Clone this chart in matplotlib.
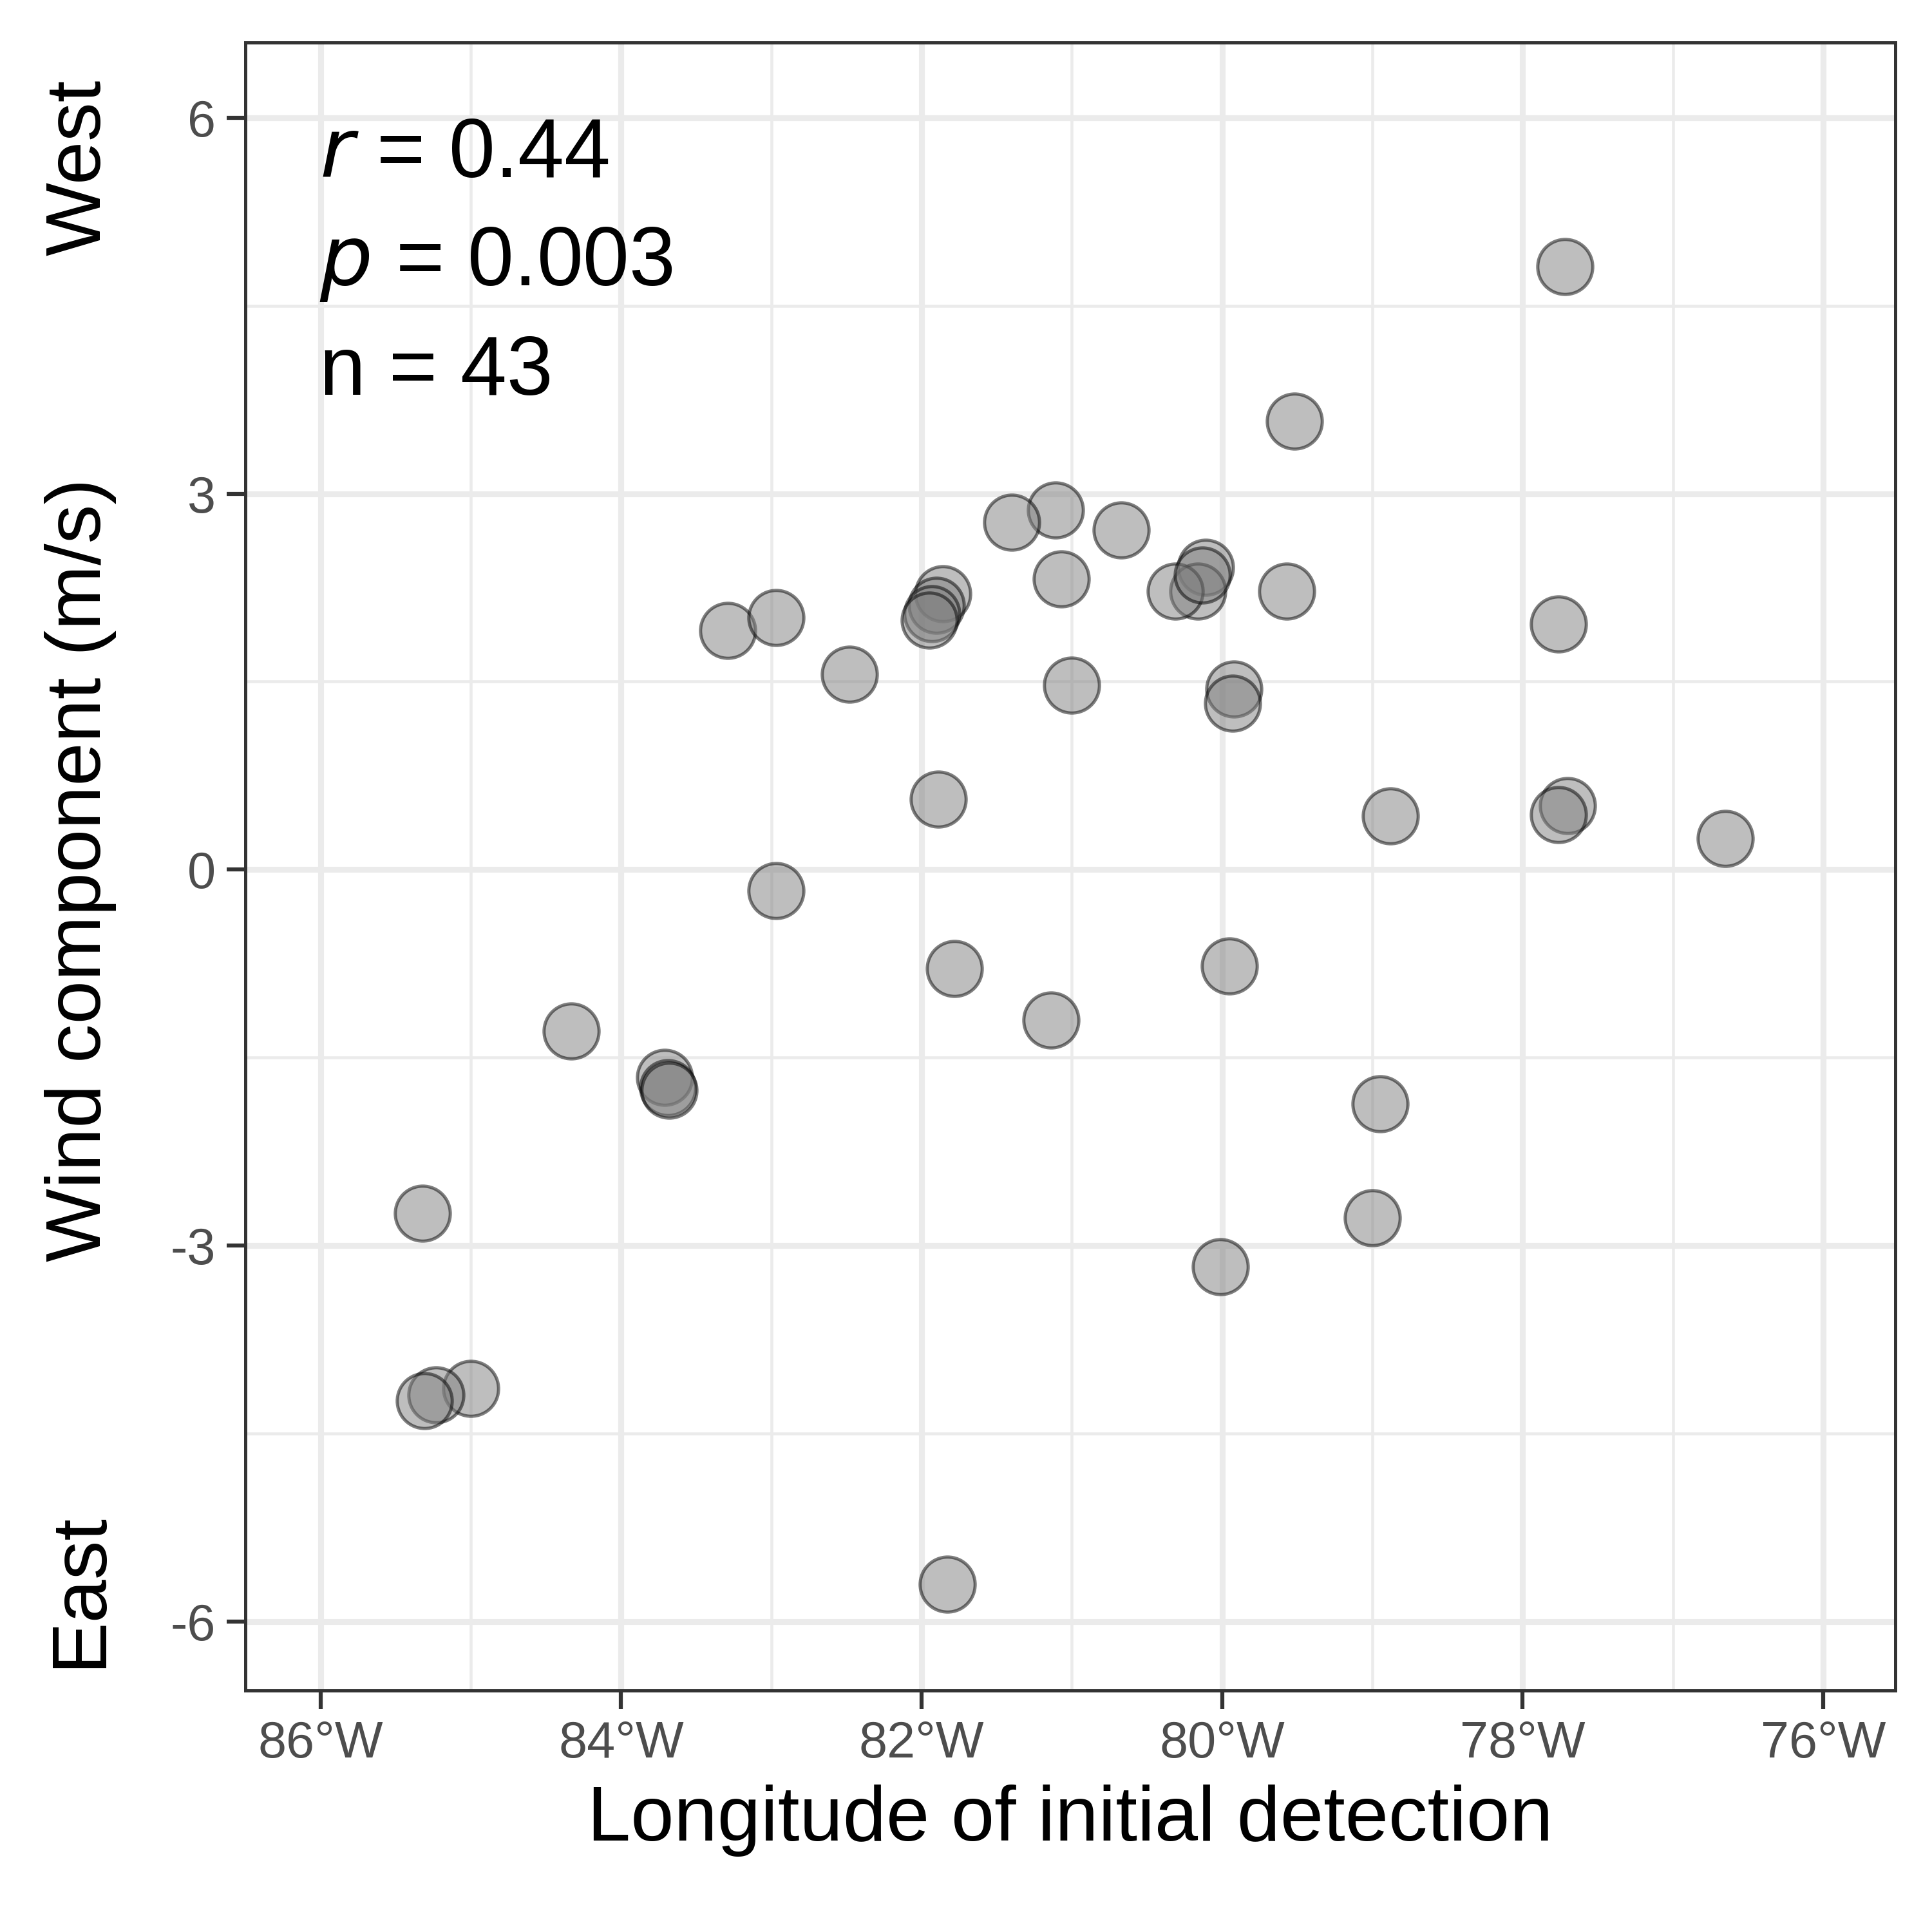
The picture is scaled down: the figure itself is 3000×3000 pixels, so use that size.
import matplotlib
matplotlib.use("Agg")
import matplotlib.pyplot as plt
from matplotlib.ticker import FixedLocator, MultipleLocator
import matplotlib.transforms as mtrans

plt.rcParams["font.family"] = ["Liberation Sans", "DejaVu Sans"]

# longitude (negative = °W) and wind component (m/s)
lon = [-77.72, -79.52, -81.11, -81.40, -80.67, -81.07, -80.11, -80.16, -80.31,
       -79.57, -81.86, -81.90, -81.93, -81.95, -83.29, -82.97, -82.48, -81.00,
       -79.92, -79.93, -77.76, -81.89, -78.88, -77.70, -77.76, -76.65, -82.97,
       -81.78, -79.95, -81.14, -84.33, -83.71, -83.69, -83.68, -78.95, -85.32,
       -79.00, -80.01, -85.00, -85.23, -85.31, -81.83, -80.13]
wind = [4.81, 3.58, 2.87, 2.77, 2.71, 2.32, 2.41, 2.22, 2.22,
        2.22, 2.20, 2.11, 2.04, 1.99, 1.91, 2.01, 1.56, 1.47,
        1.44, 1.33, 1.96, 0.56, 0.43, 0.51, 0.44, 0.25, -0.17,
        -0.79, -0.77, -1.20, -1.29, -1.66, -1.74, -1.76, -1.87, -2.74,
        -2.78, -3.17, -4.14, -4.19, -4.24, -5.70, 2.35]
# NOTE: last point is part of the dense cluster near 80°W

xticks = [-86, -84, -82, -80, -78, -76]
xticklabels = ["86°W", "84°W", "82°W", "80°W", "78°W", "76°W"]
yticks = [-6, -3, 0, 3, 6]
stats = ["$r$ = 0.44", "$p$ = 0.003", "n = 43"]

fig = plt.figure(figsize=(10, 10), dpi=300)
ax = fig.add_axes([0.127, 0.125, 0.854, 0.853])

ax.scatter(lon[:43], wind[:43], s=420, facecolor="#7f7f7f", alpha=0.5,
           edgecolor="black", linewidth=1.2, zorder=3)

ax.set_xlim(-86.5, -75.52)
ax.set_ylim(-6.55, 6.6)
ax.set_xticks(xticks)
ax.set_xticklabels(xticklabels)
ax.set_yticks(yticks)
ax.set_yticklabels([str(v) for v in yticks])
ax.xaxis.set_minor_locator(MultipleLocator(1))
ax.yaxis.set_minor_locator(MultipleLocator(1.5))
ax.grid(True, which="major", color="#EBEBEB", linewidth=2.2, zorder=0)
ax.grid(True, which="minor", color="#EBEBEB", linewidth=1.1, zorder=0)
ax.set_axisbelow(True)
ax.tick_params(which="major", labelsize=19, labelcolor="#4D4D4D",
               color="#333333", length=7, width=1.5, pad=4)
ax.tick_params(which="minor", length=0)
for sp in ax.spines.values():
    sp.set_color("#333333")
    sp.set_linewidth(1.2)

ax.set_xlabel("Longitude of initial detection", fontsize=29, labelpad=6)

tr = mtrans.blended_transform_factory(ax.transAxes, ax.transData)
ax.text(-0.10, 0, "Wind component (m/s)", transform=tr, rotation=90,
        fontsize=29, ha="center", va="center")
ax.text(-0.10, 5.6, "West", transform=tr, rotation=90,
        fontsize=29, ha="center", va="center")
ax.text(-0.10, -5.75, "East", transform=tr, rotation=90,
        fontsize=29, ha="center", va="center")

for i, s in enumerate(stats):
    ax.text(0.045, 0.955 - i * 0.066, s, transform=ax.transAxes,
            fontsize=31, va="top", ha="left")

fig.savefig("out.png", dpi=300)
